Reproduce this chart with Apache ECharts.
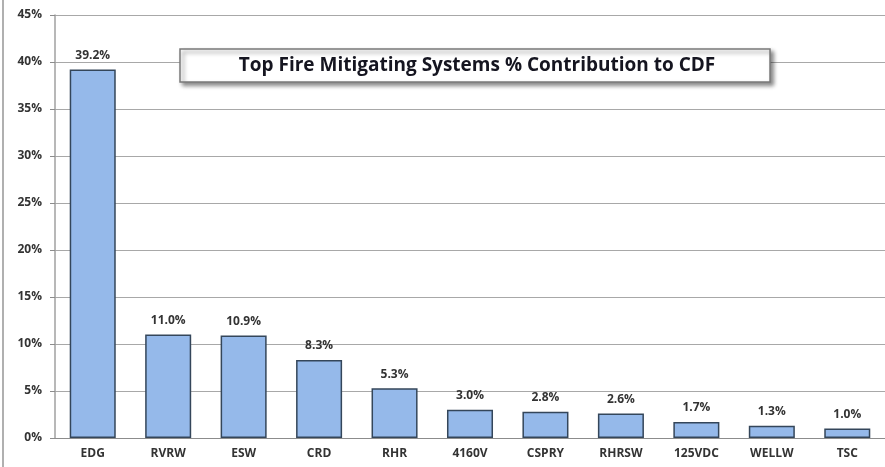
<!DOCTYPE html>
<html><head><meta charset="utf-8">
<script src="https://cdn.jsdelivr.net/npm/echarts@6/dist/echarts.min.js"></script>
<style>html,body{margin:0;padding:0;background:#fff}#c{width:885px;height:467px}</style>
</head><body><div id="c"></div>
<script>
const categories = ['EDG','RVRW','ESW','CRD','RHR','4160V','CSPRY','RHRSW','125VDC','WELLW','TSC'];
const values = [39.2, 11.0, 10.9, 8.3, 5.3, 3.0, 2.8, 2.6, 1.7, 1.3, 1.0];
const yTicks = [0, 5, 10, 15, 20, 25, 30, 35, 40, 45];
const titleText = 'Top Fire Mitigating Systems % Contribution to CDF';

const font = '"Open Sans", "Liberation Sans", sans-serif';
const chart = echarts.init(document.getElementById('c'), null, {renderer: 'canvas'});
chart.setOption({
  animation: false,
  backgroundColor: '#fff',
  grid: {left: 55, right: -1, top: 15, bottom: 29, containLabel: false},
  xAxis: {
    type: 'category', data: categories,
    axisLine: {lineStyle: {color: '#8c8c8c', width: 1}},
    axisTick: {show: false},
    axisLabel: {color: '#333', fontFamily: font, fontSize: 12, fontWeight: 'bold', margin: 10}
  },
  yAxis: {
    type: 'value', min: yTicks[0], max: yTicks[yTicks.length - 1], interval: 5,
    axisLine: {show: true, lineStyle: {color: '#a0a0a0', width: 1.5}},
    axisTick: {show: true, length: 5, inside: false, lineStyle: {color: '#8c8c8c'}},
    splitLine: {lineStyle: {color: '#a8a8a8', width: 1}},
    axisLabel: {color: '#333', fontFamily: font, fontSize: 12, fontWeight: 'bold', margin: 13, formatter: v => v + '%'}
  },
  series: [{
    type: 'bar', data: values, barCategoryGap: '39%',
    itemStyle: {color: '#95b9ea', borderColor: '#34465a', borderWidth: 1.5},
    label: {show: true, position: 'top', distance: 8, color: '#333', fontFamily: font, fontSize: 12, fontWeight: 'bold',
      formatter: p => p.value.toFixed(1) + '%'}
  }],
  graphic: [
    {type: 'line', shape: {x1: 3, y1: 0, x2: 3, y2: 467}, style: {stroke: '#b0b0b0', lineWidth: 2}},
    {type: 'rect', shape: {x: 180, y: 49, width: 590, height: 33},
      style: {fill: '#fff', stroke: '#7a7a7a', lineWidth: 1.5, shadowBlur: 4, shadowOffsetX: 3, shadowOffsetY: 3, shadowColor: 'rgba(0,0,0,0.45)'}, z: 100},
    {type: 'text', x: 477, y: 66, z: 101,
      style: {text: titleText, fill: '#151520', font: 'bold 19px ' + font, align: 'center', verticalAlign: 'middle'}}
  ]
});
</script></body></html>
